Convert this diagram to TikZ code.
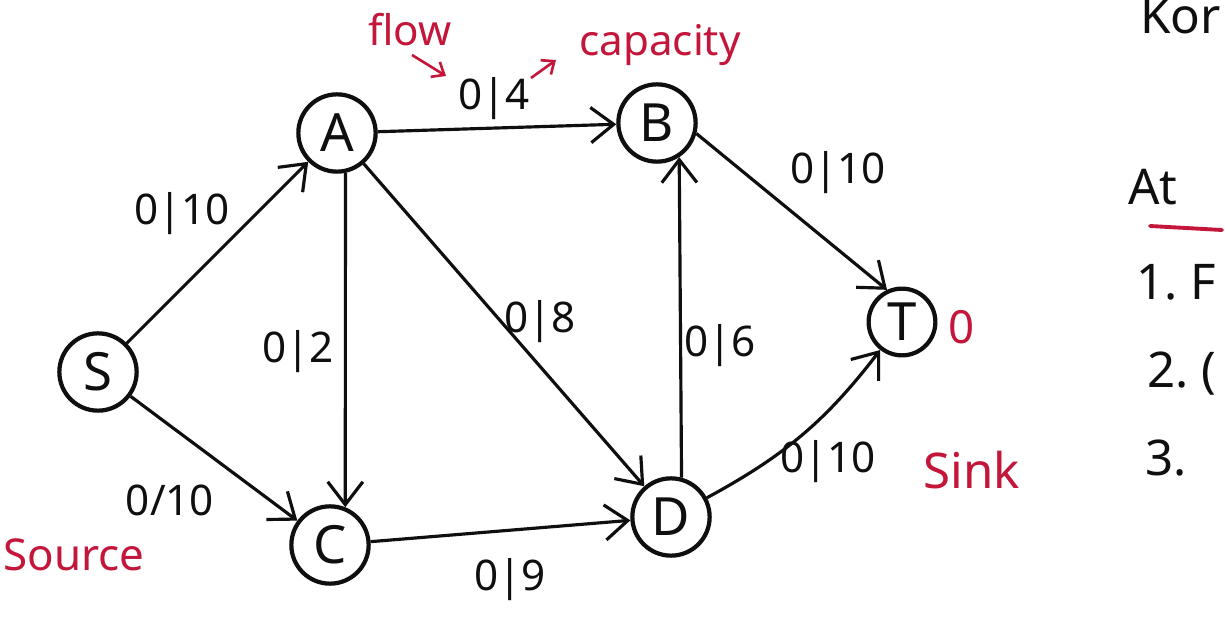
\documentclass[tikz,border=0pt]{standalone}
\usepackage{fontspec}
\setmainfont{Noto Sans}
\usetikzlibrary{arrows.meta}
\definecolor{inkred}{RGB}{196,22,58}
\definecolor{ink}{RGB}{15,15,15}
\tikzset{
  vtx/.style={circle,draw=ink,line width=2.4pt,minimum size=44pt,inner sep=0pt,font=\fontsize{30}{32}\selectfont,text=ink},
  edge/.style={draw=ink,line width=1.8pt,-{Straight Barb[length=13pt,width=20pt,line width=1.8pt]}},
  lbl/.style={font=\fontsize{24}{26}\selectfont,text=ink,inner sep=1pt},
  redtxt/.style={font=\fontsize{24}{26}\selectfont,text=inkred,inner sep=0pt},
  notetxt/.style={font=\fontsize{28}{30}\selectfont,text=ink,inner sep=0pt,anchor=base west},
  redarrow/.style={draw=inkred,line width=1.5pt,-{Straight Barb[length=6pt,width=10pt,line width=1.5pt]}}
}
\begin{document}
\begin{tikzpicture}[x=0.02cm,y=-0.02cm]
\useasboundingbox (0,0) rectangle (1225,631);
\fill[white] (0,0) rectangle (1225,631);
% nodes
\node[vtx] (S) at (98,372) {S};
\node[vtx] (A) at (337,133) {A};
\node[vtx] (B) at (657,123) {B};
\node[vtx] (C) at (330,545) {C};
\node[vtx] (D) at (671,517) {D};
\node[vtx,minimum size=38pt] (T) at (902,322) {T};
% edges
\draw[edge] (S) -- (A);
\draw[edge] (A) -- (B);
\draw[edge] (B.-15) -- (T.115);
\draw[edge] (A.-78) -- (C.68);
\draw[edge] (A) -- (D);
\draw[edge] (D.75) -- (B.-57);
\draw[edge] (S) -- (C);
\draw[edge] (C) -- (D);
\draw[edge] (D) to[bend right=12] (T);
% edge labels
\node[lbl] (lSA) at (182,214) {0|10};
\node[lbl] (lAB) at (494,99) {0|4};
\node[lbl] (lBT) at (838,173) {0|10};
\node[lbl] (lAC) at (298,352) {0|2};
\node[lbl] (lAD) at (540,322) {0|8};
\node[lbl] (lDB) at (720,346) {0|6};
\node[lbl] (lSC) at (170,500) {0/10};
\node[lbl] (lCD) at (510,580) {0|9};
\node[lbl] (lDT) at (828,462) {0|10};
% red annotations
\node[redtxt] (flow) at (410,30) {flow};
\node[redtxt] (cap) at (660,45) {capacity};
\coordinate (f1) at (412,55);
\coordinate (f2) at (446,76);
\draw[redarrow] (f1) -- (f2);
\coordinate (c1) at (531,78);
\coordinate (c2) at (556,60);
\draw[redarrow] (c1) -- (c2);
\node[redtxt,font=\fontsize{26}{28}\selectfont] (zero) at (962,327) {0};
\node[redtxt,font=\fontsize{28}{30}\selectfont] (sink) at (972,470) {Sink};
\node[redtxt,font=\fontsize{25}{27}\selectfont,anchor=west] (src) at (3,555) {Source};
% right-hand notes
\node[notetxt] (kon) at (1140,34) {Kor};
\node[notetxt] (at) at (1128,205) {At};
\coordinate (u1) at (1150,226);
\coordinate (u2) at (1222,230);
\draw[inkred,line width=2.2pt,line cap=round] (u1) -- (u2);
\node[notetxt] (n1) at (1136,300) {1.\ F};
\node[notetxt] (n2) at (1147,388) {2.\ (};
\node[notetxt] (n3) at (1145,476) {3.};
\end{tikzpicture}
\end{document}
